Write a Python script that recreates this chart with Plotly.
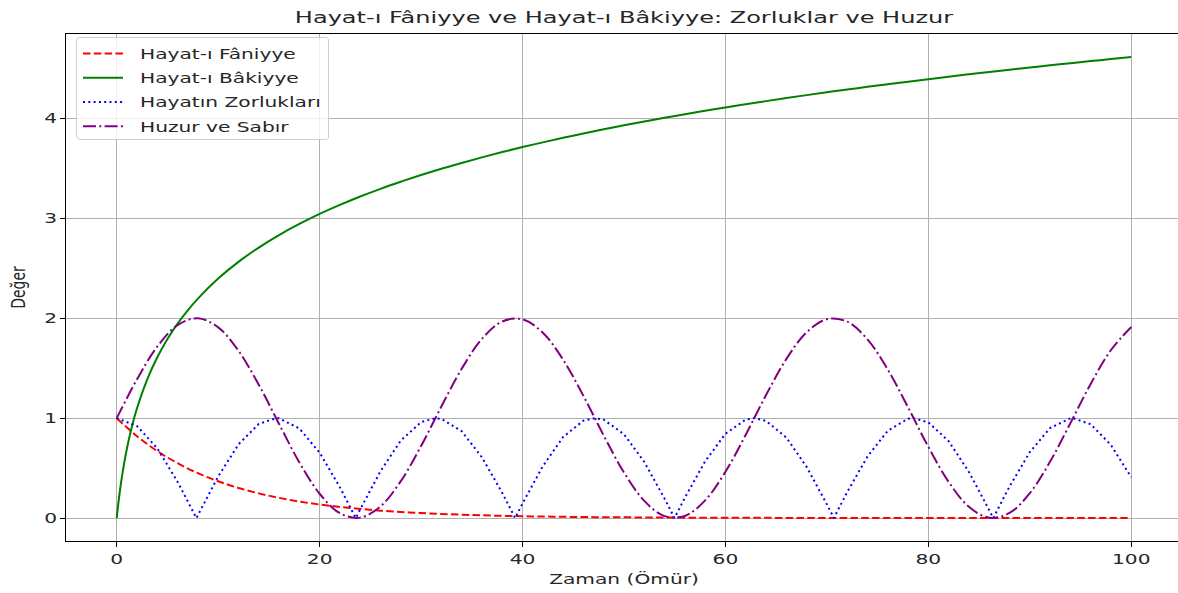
import plotly.graph_objects as go

# ---- data ----
x_faniyye = list(range(0, 101, 2))
faniyye = [1.000, 0.819, 0.670, 0.549, 0.449, 0.368, 0.301, 0.247, 0.202, 0.165,
           0.135, 0.111, 0.091, 0.074, 0.061, 0.050, 0.041, 0.033, 0.027, 0.022,
           0.018, 0.015, 0.012, 0.010, 0.008, 0.007, 0.006, 0.005, 0.004, 0.003,
           0.002, 0.002, 0.002, 0.001, 0.001, 0.001, 0.001, 0.001, 0.001, 0.000,
           0.000, 0.000, 0.000, 0.000, 0.000, 0.000, 0.000, 0.000, 0.000, 0.000,
           0.000]

x_bakiyye = [0, 0.25, 0.5, 1, 1.5, 2, 3, 4, 5, 6, 7, 8] + list(range(10, 101, 2))
bakiyye = [0.000, 0.223, 0.405, 0.693, 0.916, 1.099, 1.386, 1.609, 1.792, 1.946, 2.079, 2.197,
           2.398, 2.565, 2.708, 2.833, 2.944, 3.045, 3.135, 3.219, 3.296, 3.367,
           3.434, 3.497, 3.555, 3.611, 3.664, 3.714, 3.761, 3.807, 3.850, 3.892,
           3.932, 3.970, 4.007, 4.043, 4.078, 4.111, 4.143, 4.174, 4.205, 4.234,
           4.263, 4.290, 4.317, 4.344, 4.369, 4.394, 4.419, 4.443, 4.466, 4.489,
           4.511, 4.533, 4.554, 4.575, 4.595, 4.615]

x_zorluk = [0, 2, 4, 6, 7.854, 8, 10, 12, 14, 15.708, 16, 18, 20, 22, 23.562, 24, 26, 28, 30,
            31.416, 32, 34, 36, 38, 39.270, 40, 42, 44, 46, 47.124, 48, 50, 52, 54, 54.978,
            56, 58, 60, 62, 62.832, 64, 66, 68, 70, 70.686, 72, 74, 76, 78, 78.540, 80, 82,
            84, 86, 86.394, 88, 90, 92, 94, 94.248, 96, 98, 100]
zorluk = [1.000, 0.921, 0.697, 0.362, 0.000, 0.029, 0.416, 0.737, 0.942, 1.000, 0.998, 0.897,
          0.654, 0.307, 0.000, 0.087, 0.469, 0.776, 0.960, 1.000, 0.993, 0.869, 0.608, 0.251,
          0.000, 0.146, 0.519, 0.811, 0.975, 1.000, 0.985, 0.839, 0.561, 0.194, 0.000, 0.203,
          0.568, 0.844, 0.986, 1.000, 0.973, 0.806, 0.512, 0.137, 0.000, 0.260, 0.616, 0.874,
          0.994, 1.000, 0.958, 0.770, 0.461, 0.078, 0.000, 0.316, 0.660, 0.901, 0.999, 1.000,
          0.939, 0.731, 0.408]

x_huzur = list(range(0, 101, 2))
huzur = [1.000, 1.389, 1.717, 1.932, 2.000, 1.909, 1.675, 1.335, 0.942, 0.557, 0.243, 0.048,
         0.004, 0.117, 0.369, 0.721, 1.117, 1.494, 1.794, 1.968, 1.989, 1.855, 1.585, 1.223,
         0.826, 0.456, 0.172, 0.019, 0.021, 0.177, 0.463, 0.834, 1.231, 1.592, 1.860, 1.991,
         1.966, 1.788, 1.486, 1.108, 0.712, 0.362, 0.112, 0.003, 0.051, 0.249, 0.565, 0.950,
         1.343, 1.682, 1.913]

x_ticks = [0, 20, 40, 60, 80, 100]
y_ticks = [0, 1, 2, 3, 4]

FONT = "DejaVu Sans"
TXT = "#262626"
W = 1183  # plot extends slightly past the 1178px window, as in the reference (right spine cropped)

fig = go.Figure()
fig.add_trace(go.Scatter(x=x_faniyye, y=faniyye, mode="lines", name="Hayat-ı Fâniyye",
                         legendgroup="a",
                         line=dict(color="red", width=2, dash="7.5px,3.3px", shape="spline")))
fig.add_trace(go.Scatter(x=x_bakiyye, y=bakiyye, mode="lines", name="Hayat-ı Bâkiyye",
                         legendgroup="b",
                         line=dict(color="green", width=2, shape="spline")))
fig.add_trace(go.Scatter(x=x_zorluk, y=zorluk, mode="lines", name="Hayatın Zorlukları",
                         legendgroup="c",
                         line=dict(color="blue", width=2, dash="2px,3.3px")))
fig.add_trace(go.Scatter(x=x_huzur, y=huzur, mode="lines", name="Huzur ve Sabır",
                         legendgroup="d",
                         line=dict(color="purple", width=2, dash="13px,3.3px,2px,3.3px",
                                   shape="spline")))

axis_common = dict(
    showline=True, linecolor="black", linewidth=1, mirror=True,
    showgrid=True, gridcolor="#b0b0b0", gridwidth=1,
    ticks="outside", ticklen=5, tickcolor="black", tickwidth=1,
    zeroline=False, tickfont=dict(family=FONT, size=14, color=TXT),
)

fig.update_layout(
    width=W, height=593,
    margin=dict(l=66, r=1, t=34, b=52),
    plot_bgcolor="white", paper_bgcolor="white",
    font=dict(family=FONT, color=TXT),
    title=dict(text="Hayat-ı Fâniyye ve Hayat-ı Bâkiyye: Zorluklar ve Huzur",
               x=624 / W, xanchor="center", y=0.971, yanchor="middle",
               font=dict(family=FONT, size=16.7, color=TXT)),
    xaxis=dict(range=[-5, 105], tickvals=x_ticks,
               title=dict(text="Zaman (Ömür)", font=dict(family=FONT, size=14), standoff=8),
               **axis_common),
    yaxis=dict(range=[-0.23, 4.846], tickvals=y_ticks,
               title=dict(text="Değer", font=dict(family=FONT, size=14), standoff=19),
               **axis_common),
    legend=dict(x=10 / (W - 67), y=0.9941, xanchor="left", yanchor="top",
                bgcolor="rgba(255,255,255,0.8)", bordercolor="#d0d0d0", borderwidth=1,
                font=dict(family=FONT, size=14, color=TXT), traceorder="grouped",
                tracegroupgap=3, itemwidth=53),
    showlegend=True,
)

# Reference text is rendered horizontally widened; reproduce that on the real SVG text.
post_js = """
document.body.style.margin='0';document.body.style.padding='0';document.body.style.overflow='hidden';
var gd=document.getElementById('{plot_id}');
var S=1.44;
function st(t){var L=t.getComputedTextLength();if(L>0){t.setAttribute('textLength',(L*S).toFixed(2));t.setAttribute('lengthAdjust','spacingAndGlyphs');}return L;}
gd.querySelectorAll('.gtitle, .xtick text, .ytick text, .xtitle').forEach(st);
var maxL=0;
gd.querySelectorAll('.legendtext').forEach(function(t){maxL=Math.max(maxL,st(t));});
var extra=maxL*(S-1)+2;
var bg=gd.querySelector('.legend .bg');
if(bg){bg.setAttribute('width',parseFloat(bg.getAttribute('width'))+extra);bg.setAttribute('height',parseFloat(bg.getAttribute('height'))-3);bg.setAttribute('rx',4);bg.setAttribute('ry',4);}
var sb=gd.querySelector('.legend .scrollbox');
if(sb){var cp=sb.getAttribute('clip-path');if(cp){var m=cp.match(/#([^)'"]+)/);if(m){var c=document.getElementById(m[1]);if(c){var r=c.querySelector('rect');if(r){r.setAttribute('width',parseFloat(r.getAttribute('width'))+extra+20);}}}}}
gd.querySelectorAll('.legend .legendlines path').forEach(function(p){p.setAttribute('d','M6,0h40');});
var yt=gd.querySelector('.ytitle');
if(yt){var x=yt.getAttribute('x'),y=yt.getAttribute('y');var tr=yt.getAttribute('transform')||'';
yt.setAttribute('transform',tr+' translate('+x+','+y+') scale(1,'+S+') translate('+(-x)+','+(-y)+')');}
"""

fig.write_html("out.html", post_script=post_js, config={"displayModeBar": False})
